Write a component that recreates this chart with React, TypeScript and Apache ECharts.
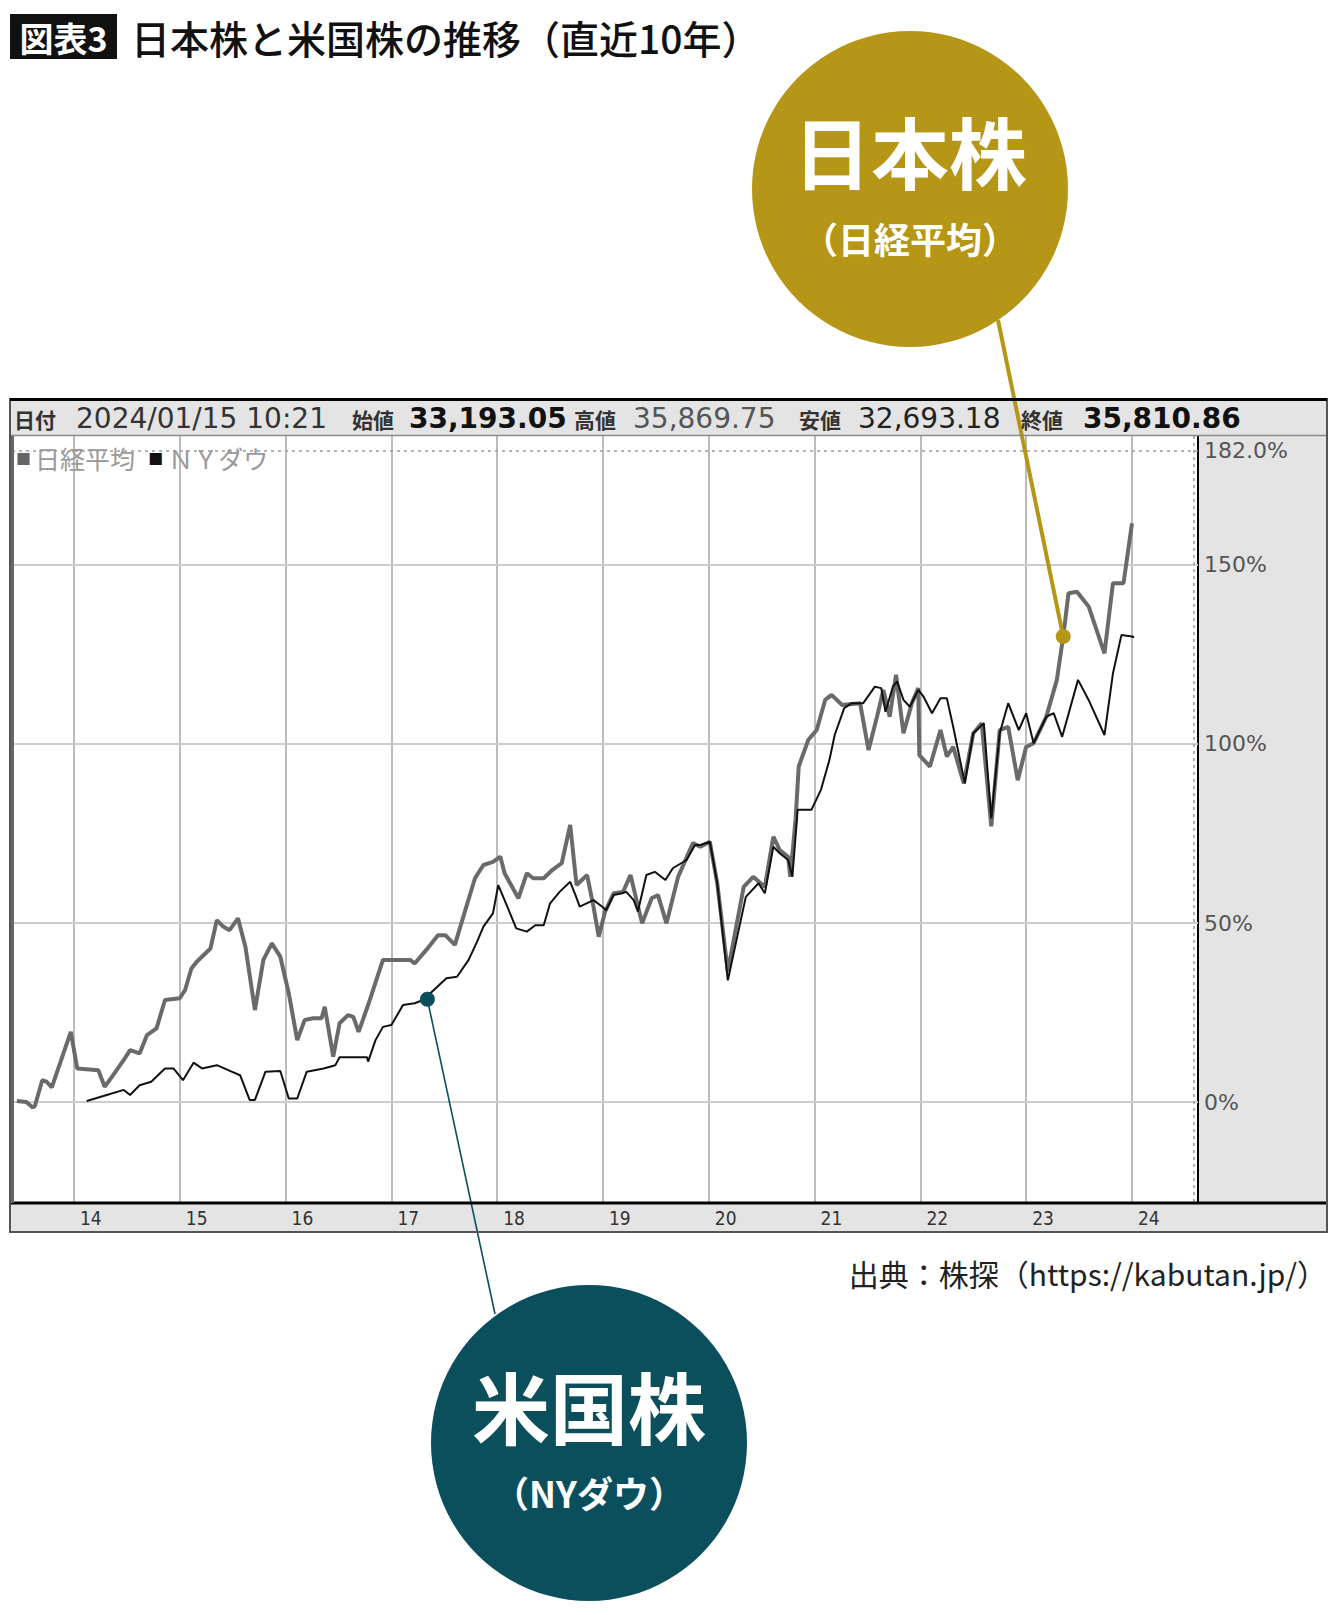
import React, { useEffect, useRef } from "react";
import * as echarts from "echarts";

// x = year (decimal), y = change since start (%)
const yearTicks = [2014, 2015, 2016, 2017, 2018, 2019, 2020, 2021, 2022, 2023, 2024];
const pctGrid = [0, 50, 100, 150];
const pctTicks = [0, 50, 100, 150, 182];
const topRef = 182;

const nikkei = [
  [2013.46, 0.3], [2013.55, 0.0], [2013.61, -1.5], [2013.63, -1.1], [2013.7, 6.1],
  [2013.74, 5.7], [2013.79, 4.1], [2013.9, 13.6], [2013.97, 19.6], [2014.03, 9.4],
  [2014.23, 8.9], [2014.29, 4.3], [2014.36, 7.1], [2014.48, 12.2], [2014.53, 14.5],
  [2014.62, 13.6], [2014.69, 18.7], [2014.78, 20.6], [2014.86, 28.5], [2015.0, 29.0],
  [2015.05, 31.3], [2015.11, 37.3], [2015.16, 39.2], [2015.29, 42.9], [2015.35, 50.8],
  [2015.41, 49.0], [2015.47, 48.0], [2015.55, 51.3], [2015.62, 43.4], [2015.71, 25.7],
  [2015.79, 39.7], [2015.87, 44.3], [2015.95, 40.6], [2016.03, 30.4], [2016.11, 17.3],
  [2016.18, 22.9], [2016.26, 23.4], [2016.34, 23.4], [2016.37, 26.6], [2016.45, 12.7],
  [2016.51, 22.0], [2016.59, 24.3], [2016.64, 23.8], [2016.69, 19.6], [2016.78, 27.1],
  [2016.92, 39.7], [2017.18, 39.7], [2017.22, 38.7], [2017.33, 42.5], [2017.44, 46.6],
  [2017.51, 46.6], [2017.6, 43.9], [2017.68, 51.8], [2017.79, 62.5], [2017.87, 66.2],
  [2017.96, 67.1], [2018.03, 68.5], [2018.07, 63.9], [2018.2, 56.9], [2018.28, 63.9],
  [2018.34, 62.5], [2018.44, 62.5], [2018.52, 64.8], [2018.61, 66.7], [2018.69, 77.4],
  [2018.75, 60.6], [2018.85, 63.4], [2018.91, 54.6], [2018.96, 46.2], [2019.02, 53.2],
  [2019.1, 58.3], [2019.19, 58.7], [2019.26, 63.4], [2019.37, 49.9], [2019.46, 56.9],
  [2019.52, 57.8], [2019.6, 49.9], [2019.71, 62.9], [2019.85, 72.3], [2019.92, 71.3],
  [2020.01, 72.7], [2020.08, 61.1], [2020.18, 36.5], [2020.33, 60.1], [2020.42, 62.9],
  [2020.53, 60.1], [2020.61, 74.1], [2020.67, 70.4], [2020.75, 68.5], [2020.77, 62.9],
  [2020.82, 78.8], [2020.85, 93.7], [2020.94, 101.1], [2021.02, 103.9], [2021.1, 112.3],
  [2021.16, 113.7], [2021.26, 110.9], [2021.43, 111.4], [2021.51, 98.3], [2021.59, 107.6],
  [2021.65, 115.1], [2021.71, 107.6], [2021.77, 119.3], [2021.84, 103.0], [2021.92, 111.4],
  [2021.98, 115.6], [2021.99, 96.9], [2022.09, 93.7], [2022.19, 103.9], [2022.25, 96.5],
  [2022.31, 99.2], [2022.41, 89.0], [2022.5, 103.0], [2022.58, 105.8], [2022.67, 77.0],
  [2022.75, 103.9], [2022.83, 104.8], [2022.92, 89.9], [2023.0, 99.2], [2023.07, 100.2],
  [2023.19, 107.6], [2023.29, 117.9], [2023.35, 130.0], [2023.4, 142.1], [2023.48, 142.5],
  [2023.59, 138.4], [2023.74, 125.3], [2023.82, 144.9], [2023.92, 144.9], [2024.0, 161.6],
];

const nyDow = [
  [2014.12, 0.3], [2014.31, 2.0], [2014.47, 3.4], [2014.53, 2.0], [2014.62, 4.7],
  [2014.73, 5.7], [2014.86, 9.4], [2014.94, 9.4], [2015.03, 6.1], [2015.13, 11.0],
  [2015.21, 9.4], [2015.35, 10.3], [2015.49, 8.5], [2015.57, 7.5], [2015.66, 0.6],
  [2015.71, 0.6], [2015.81, 8.5], [2015.95, 8.7], [2016.03, 1.0], [2016.11, 1.0],
  [2016.2, 8.5], [2016.36, 9.4], [2016.47, 10.3], [2016.51, 12.5], [2016.77, 12.5],
  [2016.78, 11.3], [2016.85, 17.3], [2016.92, 21.0], [2017.0, 21.5], [2017.11, 27.1],
  [2017.22, 27.6], [2017.3, 28.5], [2017.52, 34.6], [2017.62, 35.0], [2017.73, 39.7],
  [2017.81, 44.8], [2017.87, 49.0], [2017.96, 52.7], [2018.01, 60.6], [2018.07, 56.4],
  [2018.18, 48.5], [2018.28, 47.6], [2018.36, 49.4], [2018.44, 49.4], [2018.5, 55.5],
  [2018.59, 58.7], [2018.69, 61.5], [2018.74, 57.8], [2018.78, 54.6], [2018.91, 56.4],
  [2018.99, 54.6], [2019.03, 53.6], [2019.1, 57.8], [2019.18, 58.3], [2019.22, 58.7],
  [2019.29, 56.4], [2019.33, 53.2], [2019.41, 63.4], [2019.49, 64.3], [2019.59, 62.0],
  [2019.66, 65.3], [2019.79, 67.6], [2019.87, 71.8], [2019.92, 71.8], [2020.01, 72.7],
  [2020.08, 61.1], [2020.18, 34.0], [2020.35, 57.3], [2020.47, 61.1], [2020.53, 58.3],
  [2020.61, 71.3], [2020.67, 69.5], [2020.75, 67.6], [2020.79, 62.9], [2020.84, 81.6],
  [2020.97, 81.6], [2021.06, 87.2], [2021.14, 95.5], [2021.19, 102.5], [2021.28, 110.0],
  [2021.35, 111.4], [2021.46, 111.4], [2021.57, 116.0], [2021.63, 115.6], [2021.67, 109.0],
  [2021.74, 116.0], [2021.78, 117.5], [2021.84, 112.3], [2021.9, 110.4], [2021.98, 115.1],
  [2022.03, 113.2], [2022.11, 108.6], [2022.19, 112.8], [2022.25, 112.8], [2022.31, 104.8],
  [2022.42, 89.0], [2022.5, 103.0], [2022.6, 105.8], [2022.67, 79.2], [2022.75, 103.0],
  [2022.83, 111.4], [2022.93, 103.9], [2023.0, 108.6], [2023.07, 100.2], [2023.19, 107.6],
  [2023.26, 108.6], [2023.34, 102.0], [2023.49, 117.9], [2023.59, 112.3], [2023.74, 102.5],
  [2023.82, 119.7], [2023.9, 130.4], [2024.0, 130.0], [2024.02, 129.8],
];

const nikkeiPin = [2023.35, 130.0];
const dowPin = [2017.34, 28.7];

const headerItems = [
  { text: "日付", x: 14, kind: "label" },
  { text: "2024/01/15 10:21", x: 76, kind: "num", color: "#333", bold: false },
  { text: "始値", x: 352, kind: "label" },
  { text: "33,193.05", x: 409, kind: "num", color: "#111", bold: true },
  { text: "高値", x: 574, kind: "label" },
  { text: "35,869.75", x: 633, kind: "num", color: "#555", bold: false },
  { text: "安値", x: 799, kind: "label" },
  { text: "32,693.18", x: 858, kind: "num", color: "#222", bold: false },
  { text: "終値", x: 1021, kind: "label" },
  { text: "35,810.86", x: 1083, kind: "num", color: "#111", bold: true },
];

const JP = '"Noto Sans CJK JP", "Noto Sans", sans-serif';
const GOLD = "#b59616";
const TEAL = "#0b4f5d";

const txt = (text, x, y, size, fill, extra = {}) => ({
  type: "text",
  x,
  y,
  z: 30,
  style: {
    text,
    fontSize: size,
    lineHeight: size,
    fontFamily: JP,
    fill,
    textAlign: "left",
    textVerticalAlign: "middle",
    align: "left",
    verticalAlign: "middle",
    ...extra,
  },
});

const App = () => {
  const ref = useRef<HTMLDivElement>(null);

  useEffect(() => {
    if (!ref.current) return;
    const chart = echarts.init(ref.current, undefined, { renderer: "svg" });

    const header = headerItems.map((h) =>
      h.kind === "label"
        ? txt(h.text, h.x, 419, 21, "#333", { fontWeight: "bold" })
        : txt(h.text, h.x, 418, 28, h.color, {
            fontFamily: '"DejaVu Sans", sans-serif',
            fontWeight: h.bold ? "bold" : "normal",
          })
    );

    chart.setOption({
      animation: false,
      backgroundColor: "#fff",
      grid: { left: 12, top: 436, right: 142, bottom: 413 },
      xAxis: {
        type: "value",
        min: 2013.414,
        max: 2024.624,
        axisLine: { show: false, onZero: false },
        axisTick: { show: false },
        splitLine: { show: false },
        axisLabel: {
          customValues: yearTicks,
          formatter: (v: number) => String(Math.round(v)).slice(2),
          align: "left",
          padding: [0, 0, 0, 6],
          margin: 6,
          fontSize: 19,
          color: "#333",
          fontFamily: '"Liberation Sans Narrow", "DejaVu Sans Condensed", sans-serif',
        },
      },
      yAxis: {
        type: "value",
        position: "right",
        min: -27.9,
        max: 186,
        axisLine: { show: true, onZero: false, lineStyle: { color: "#000", width: 2 } },
        axisTick: { show: false },
        splitLine: { show: false },
        axisLabel: {
          customValues: pctTicks,
          formatter: (v: number) => (Math.round(v) === 182 ? "182.0%" : Math.round(v) + "%"),
          margin: 6,
          fontSize: 22,
          color: "#555",
          fontFamily: '"DejaVu Sans", sans-serif',
        },
      },
      series: [
        {
          type: "line",
          data: [],
          z: 1,
          silent: true,
          markLine: {
            z: 1,
            silent: true,
            symbol: ["none", "none"],
            label: { show: false },
            data: [
              ...yearTicks.map((y) => ({ xAxis: y, lineStyle: { color: "#bcbcbc", width: 2, type: "solid" } })),
              ...pctGrid.map((p) => ({ yAxis: p, lineStyle: { color: "#cdcdcd", width: 2, type: "solid" } })),
              { yAxis: topRef, lineStyle: { color: "#9a9a9a", width: 1.5, type: [3, 4] } },
              { xAxis: 2024.577, lineStyle: { color: "#9a9a9a", width: 1.5, type: [3, 4] } },
            ],
          },
        },
        {
          name: "日経平均",
          type: "line",
          data: nikkei,
          z: 3,
          symbol: "none",
          clip: false,
          lineStyle: { color: "#6a6a6a", width: 4 },
          markLine: {
            z: 6,
            silent: true,
            symbol: ["none", "none"],
            label: { show: false },
            lineStyle: { color: GOLD, width: 4, type: "solid" },
            data: [[{ coord: nikkeiPin }, { x: 998, y: 320 }]],
          },
          markPoint: {
            z: 7,
            symbol: "circle",
            symbolSize: 15,
            label: { show: false },
            itemStyle: { color: GOLD },
            data: [{ coord: nikkeiPin }],
          },
        },
        {
          name: "NYダウ",
          type: "line",
          data: nyDow,
          z: 4,
          symbol: "none",
          clip: false,
          lineStyle: { color: "#111", width: 2 },
          markLine: {
            z: 6,
            silent: true,
            symbol: ["none", "none"],
            label: { show: false },
            lineStyle: { color: TEAL, width: 1.6, type: "solid" },
            data: [[{ coord: dowPin }, { x: 495, y: 1314 }]],
          },
          markPoint: {
            z: 7,
            symbol: "circle",
            symbolSize: 15,
            label: { show: false },
            itemStyle: { color: TEAL },
            data: [{ coord: dowPin }],
          },
        },
      ],
      graphic: [
        // title
        { type: "rect", z: 30, shape: { x: 10, y: 14, width: 107, height: 45 }, style: { fill: "#111" } },
        txt("図表3", 63.5, 37, 34, "#fff", { fontWeight: "bold", textAlign: "center", align: "center" }),
        txt("日本株と米国株の推移（直近10年）", 131, 37, 39, "#111", { fontWeight: 500 }),
        // chart frame
        { type: "rect", z: -1, shape: { x: 11, y: 401, width: 1315, height: 34 }, style: { fill: "#e4e4e4" } },
        { type: "rect", z: -1, shape: { x: 1199, y: 436, width: 127, height: 767 }, style: { fill: "#e4e4e4" } },
        { type: "rect", z: -1, shape: { x: 11, y: 1203, width: 1315, height: 28 }, style: { fill: "#e4e4e4" } },
        { type: "line", z: 20, shape: { x1: 10, y1: 435.5, x2: 1327, y2: 435.5 }, style: { stroke: "#8a8a8a", lineWidth: 1.5 } },
        { type: "line", z: 20, shape: { x1: 10, y1: 1203, x2: 1327, y2: 1203 }, style: { stroke: "#000", lineWidth: 3 } },
        { type: "line", z: 20, shape: { x1: 12.5, y1: 436, x2: 12.5, y2: 1203 }, style: { stroke: "#666", lineWidth: 3 } },
        { type: "rect", z: 20, shape: { x: 10, y: 399, width: 1317, height: 833 }, style: { fill: "none", stroke: "#555", lineWidth: 2 } },
        { type: "line", z: 20, shape: { x1: 10, y1: 399.5, x2: 1327, y2: 399.5 }, style: { stroke: "#000", lineWidth: 3 } },
        ...header,
        // legend
        {
          type: "text",
          x: 16,
          y: 458,
          z: 30,
          style: {
            text: "{a|■}{t|日経平均} {b|■}{t|ＮＹダウ}",
            textVerticalAlign: "middle",
            verticalAlign: "middle",
            rich: {
              a: { fontSize: 15, fill: "#666", fontFamily: JP, padding: [0, 4, 0, 0] },
              b: { fontSize: 15, fill: "#111", fontFamily: JP, padding: [0, 5, 0, 10] },
              t: { fontSize: 25, fill: "#999", fontFamily: JP },
            },
          },
        },
        // source
        txt("出典：株探（https://kabutan.jp/）", 1327, 1273, 30, "#222", { textAlign: "right", align: "right" }),
        // callouts
        { type: "circle", z: 25, shape: { cx: 910, cy: 189, r: 158 }, style: { fill: GOLD } },
        txt("日本株", 910, 150, 78, "#fff", { fontWeight: "bold", textAlign: "center", align: "center" }),
        txt("（日経平均）", 910, 238, 36, "#fff", { fontWeight: "bold", textAlign: "center", align: "center" }),
        { type: "circle", z: 25, shape: { cx: 589, cy: 1443, r: 158 }, style: { fill: TEAL } },
        txt("米国株", 589, 1405, 78, "#fff", { fontWeight: "bold", textAlign: "center", align: "center" }),
        txt("（NYダウ）", 589, 1492, 36, "#fff", { fontWeight: "bold", textAlign: "center", align: "center" }),
      ],
    });

    return () => {
      chart.dispose();
    };
  }, []);

  return (
    <div
      ref={ref}
      style={{ position: "absolute", left: 0, top: 0, width: "1340px", height: "1615px" }}
      aria-label="日本株と米国株の推移"
    />
  );
};

export default App;
